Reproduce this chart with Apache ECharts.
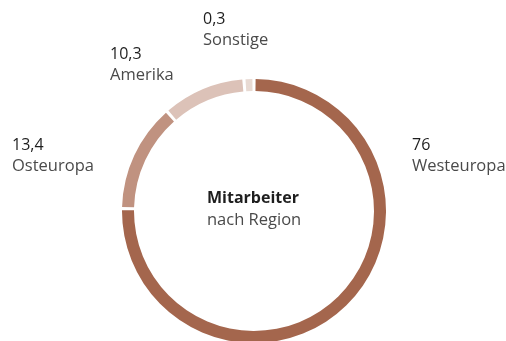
<!DOCTYPE html>
<html>
<head>
<meta charset="utf-8">
<script src="https://cdn.jsdelivr.net/npm/echarts@6/dist/echarts.min.js"></script>
<style>
  html, body { margin: 0; padding: 0; background: #ffffff; }
  #chart { width: 506px; height: 341px; }
</style>
</head>
<body>
<div id="chart"></div>
<script>
// Employees by region (share in %)
const regions = ['Westeuropa', 'Osteuropa', 'Amerika', 'Sonstige'];
const shares = [76, 13.4, 10.3, 0.3];
const valueLabels = ['76', '13,4', '10,3', '0,3'];
const sliceColors = ['#a4664d', '#c09280', '#dcc2b8', '#e8dad3'];

// Where each region's caption block starts (left x, top y)
const captionPos = [[412, 137], [12, 137], [110, 46], [203, 11]];

const chart = echarts.init(document.getElementById('chart'), null, { renderer: 'canvas' });

const FONT = '"Open Sans", "Noto Sans", sans-serif';

const captions = [];
regions.forEach((name, i) => {
  const [x, y] = captionPos[i];
  captions.push({
    type: 'text', left: x, top: y,
    style: { text: valueLabels[i], font: '500 16px ' + FONT, fill: '#1e1e1e' }
  });
  captions.push({
    type: 'text', left: x, top: y + 21,
    style: { text: name, font: '400 16.5px ' + FONT, fill: '#4a4a4a' }
  });
});

chart.setOption({
  animation: false,
  backgroundColor: '#ffffff',
  graphic: captions.concat([
    {
      type: 'text', left: 207, top: 190,
      style: { text: 'Mitarbeiter', font: '700 16px ' + FONT, fill: '#1e1e1e' }
    },
    {
      type: 'text', left: 207, top: 212,
      style: { text: 'nach Region', font: '400 16.5px ' + FONT, fill: '#4a4a4a' }
    }
  ]),
  series: [{
    type: 'pie',
    center: [254, 211],
    radius: [120, 132],
    startAngle: 90,
    clockwise: true,
    padAngle: 1.4,
    minAngle: 3,
    label: { show: false },
    labelLine: { show: false },
    emphasis: { disabled: true },
    data: regions.map((name, i) => ({
      name, value: shares[i], itemStyle: { color: sliceColors[i] }
    }))
  }]
});
</script>
</body>
</html>
